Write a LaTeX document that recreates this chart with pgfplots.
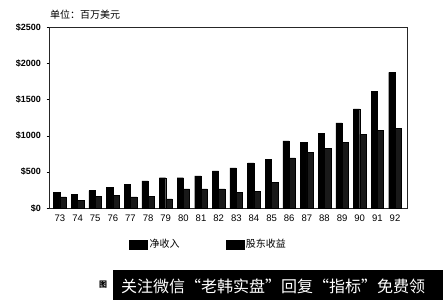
\documentclass[border=0pt]{standalone}
\usepackage{pgfplots}
\pgfplotsset{compat=1.18}
\usepackage{pgfplotstable}
\usepackage{fontspec}
\setmainfont{Liberation Sans}
\newfontfamily\cjk{Noto Sans CJK SC}

\pgfplotstableread{
x net div
0 218 155
1 191 109
2 241 164
3 282 177
4 323 155
5 373 164
6 418 127
7 418 264
8 445 264
9 514 264
10 555 218
11 623 227
12 673 359
13 927 691
14 905 764
15 1032 823
16 1177 905
17 1368 1018
18 1615 1073
19 1875 1100
}\datatable

\begin{document}
\begin{tikzpicture}[x=1pt,y=1pt]
\path[use as bounding box, fill=white] (0,0) rectangle (443,300);
\begin{axis}[
  at={(49pt,92pt)}, anchor=south west,
  scale only axis, width=358pt, height=181pt,
  xmin=-0.62, xmax=19.68, ymin=0, ymax=2500,
  ybar=0pt, bar width=6.3pt,
  axis line style={line width=0.6pt, black!85},
  ytick={0,500,1000,1500,2000,2500},
  yticklabels={\$0,\$500,\$1000,\$1500,\$2000,\$2500},
  yticklabel style={font=\bfseries\fontsize{9}{9}\selectfont, xshift=-2pt},
  ytick pos=left,
  xtick={0,...,19},
  xticklabels={73,74,75,76,77,78,79,80,81,82,83,84,85,86,87,88,89,90,91,92},
  xticklabel style={font=\fontsize{9.5}{9.5}\selectfont, yshift=-1pt},
  xtick style={draw=none},
  ytick align=outside, major tick length=2.5pt,
  y tick style={black},
  legend style={draw=none, fill=none, legend columns=2, at={(0.215,-0.2)}, anchor=west,
    font=\cjk\fontsize{10}{10}\selectfont,
    /tikz/every even column/.append style={column sep=44pt}},
  legend image code/.code={\fill[black] (0pt,-4.5pt) rectangle (18pt,4.5pt);},
]
\addplot[fill=black, draw=black] table[x=x, y=net] {\datatable};
\addplot[fill=black!90, draw=black] table[x=x, y=div] {\datatable};
\legend{净收入, 股东收益}
\end{axis}
\node[anchor=base west, font=\cjk\fontsize{10}{10}\selectfont, inner sep=0pt] at (50,281) {单位：百万美元};
\fill[black] (113,0) rectangle (443,30);
\node[anchor=center, font=\cjk\bfseries\fontsize{8}{8}\selectfont, inner sep=0pt] at (103,15) {图};
\node[anchor=west, white, font=\cjk\fontsize{16}{16}\selectfont, inner sep=0pt] at (121,14) {关注微信“老韩实盘”回复“指标”免费领};
\end{tikzpicture}
\end{document}
